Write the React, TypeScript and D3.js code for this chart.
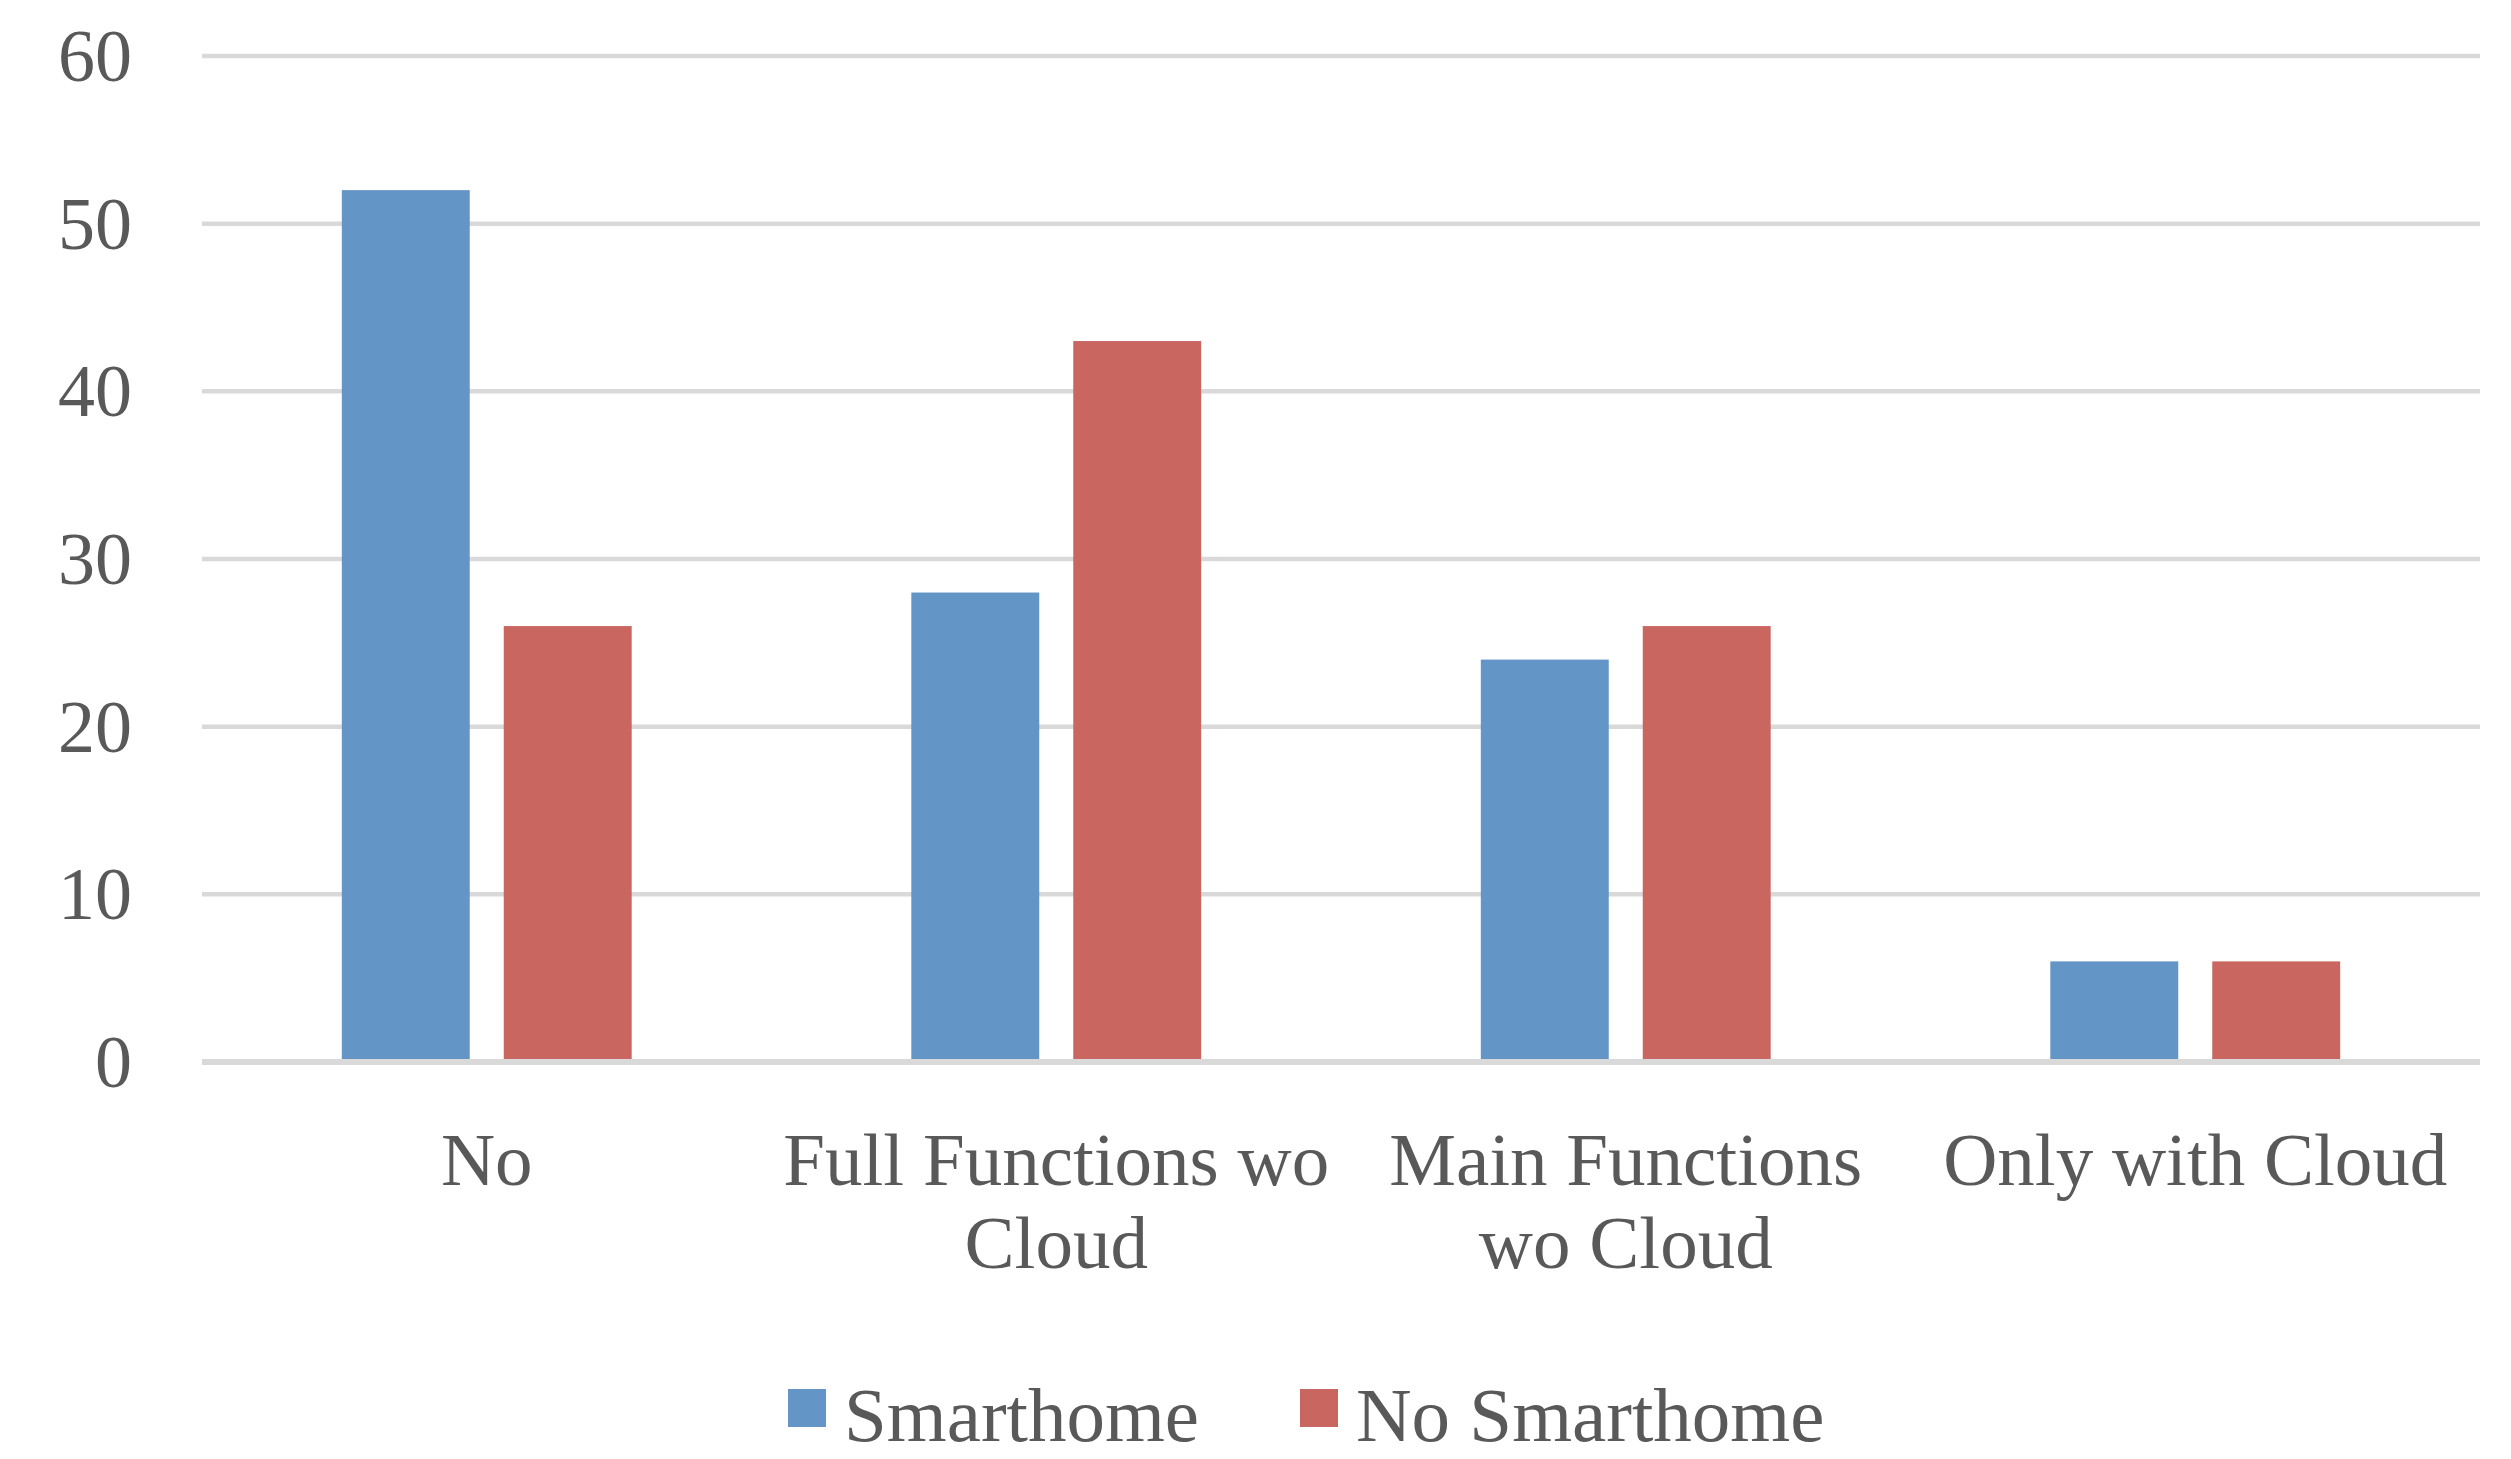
import * as d3 from "d3";

const WIDTH = 2511;
const HEIGHT = 1459;
const MARGIN = { top: 56, right: 31, bottom: 397, left: 202 };

const INNER_W = WIDTH - MARGIN.left - MARGIN.right;
const INNER_H = HEIGHT - MARGIN.top - MARGIN.bottom;

const FONT = "'Liberation Serif', 'DejaVu Serif', serif";
const TEXT_COLOR = "#595959";
const GRID_COLOR = "#d9d9d9";

// data
const categories = ["No", "Full Functions wo Cloud", "Main Functions wo Cloud", "Only with Cloud"];
const categoryLines = [["No"], ["Full Functions wo", "Cloud"], ["Main Functions", "wo Cloud"], ["Only with Cloud"]];
const series = ["Smarthome", "No Smarthome"];
const smarthome = [52, 28, 24, 6];
const noSmarthome = [26, 43, 26, 6];
const yTicks = [0, 10, 20, 30, 40, 50, 60];
const colors = ["#6396c7", "#c9665f"];

export default function App() {
  const x0 = d3.scaleBand<string>().domain(categories).range([0, INNER_W]).padding(0);
  const bw = x0.bandwidth();
  const groupW = bw * 0.509;
  const x1 = d3
    .scaleBand<string>()
    .domain(series)
    .range([(bw - groupW) / 2, (bw + groupW) / 2])
    .paddingInner(0.21)
    .paddingOuter(0);
  const y = d3.scaleLinear().domain([0, 60]).range([INNER_H, 0]);

  const values = [smarthome, noSmarthome];

  return (
    <svg
      width={WIDTH}
      height={HEIGHT}
      style={{ position: "absolute", left: 0, top: 0, background: "#fff" }}
      fontFamily={FONT}>
      <g transform={`translate(${MARGIN.left},${MARGIN.top})`}>
        {/* gridlines */}
        {yTicks.map((t) => (
          <line
            key={t}
            x1={0}
            x2={INNER_W}
            y1={y(t)}
            y2={y(t)}
            stroke={GRID_COLOR}
            strokeWidth={t === 0 ? 6 : 4.5}
          />
        ))}

        {/* y tick labels */}
        {yTicks.map((t) => (
          <text
            key={t}
            x={-70}
            y={y(t) + 8}
            textAnchor="end"
            dominantBaseline="middle"
            fill={TEXT_COLOR}
            fontSize={74}>
            {t}
          </text>
        ))}

        {/* bars */}
        {categories.map((c, i) => (
          <g key={c} transform={`translate(${x0(c)},0)`}>
            {series.map((s, j) => {
              const v = values[j][i];
              return (
                <rect
                  key={s}
                  x={x1(s)}
                  y={y(v)}
                  width={x1.bandwidth()}
                  height={y(0) - y(v) - 3}
                  fill={colors[j]}
                />
              );
            })}
          </g>
        ))}

        {/* category labels */}
        {categories.map((c, i) => (
          <text
            key={c}
            x={(x0(c) ?? 0) + bw / 2}
            y={INNER_H + 123}
            textAnchor="middle"
            fill={TEXT_COLOR}
            fontSize={75}>
            {categoryLines[i].map((line, k) => (
              <tspan key={k} x={(x0(c) ?? 0) + bw / 2} dy={k === 0 ? 0 : 83}>
                {line}
              </tspan>
            ))}
          </text>
        ))}
      </g>

      {/* legend */}
      <g transform="translate(0,1441)">
        {series.map((s, j) => {
          const lx = j === 0 ? 788 : 1300;
          return (
            <g key={s} transform={`translate(${lx},0)`}>
              <rect x={0} y={-52} width={38} height={38} fill={colors[j]} />
              <text x={56} y={0} fill={TEXT_COLOR} fontSize={77}>
                {s}
              </text>
            </g>
          );
        })}
      </g>
    </svg>
  );
}
